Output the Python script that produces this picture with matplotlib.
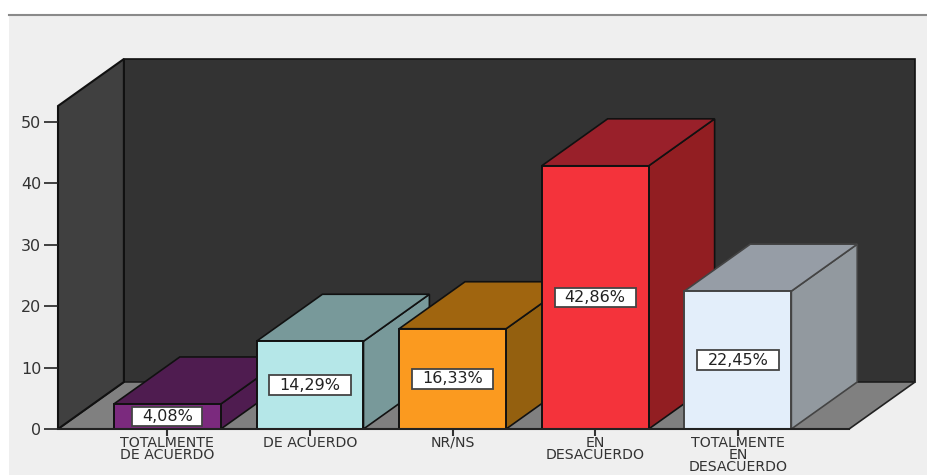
import matplotlib
matplotlib.use('Agg')
import matplotlib.pyplot as plt
from matplotlib.patches import Polygon, Rectangle

categories = ['TOTALMENTE\nDE ACUERDO', 'DE ACUERDO', 'NR/NS', 'EN\nDESACUERDO', 'TOTALMENTE\nEN\nDESACUERDO']
values = [4.08, 14.29, 16.33, 42.86, 22.45]
labels = ['4,08%', '14,29%', '16,33%', '42,86%', '22,45%']
front_colors = ['#7b2a7e', '#b5e7e8', '#fb9a1f', '#f4333b', '#e3eefa']
top_colors = ['#4f1c50', '#78999a', '#a0650f', '#99202a', '#969da6']
side_colors = ['#4f1c50', '#78999a', '#94600f', '#921e22', '#92999f']
edge_colors = ['#111111', '#111111', '#111111', '#111111', '#444444']
label_widths = [0.49, 0.57, 0.57, 0.57, 0.57]
yticks = [0, 10, 20, 30, 40, 50]

W, H = 928, 475
bar_w = 0.75
dx, dy = 0.462, 7.65
x0, x1 = -0.767, 4.78
ymax = 52.6

fig = plt.figure(figsize=(W / 100, H / 100), dpi=100, facecolor='white')
# page panel behind the chart
fig.add_artist(Rectangle((9 / W, 0), 1, 1 - 15 / H, transform=fig.transFigure,
                         fc='#efefef', ec='none', zorder=-2))
fig.add_artist(plt.Line2D([9 / W, 1], [1 - 14.5 / H, 1 - 14.5 / H], color='#8a8a8a', lw=1.5, zorder=-1))

ax = fig.add_axes([58 / W, (H - 429) / H, (915 - 58) / W, (429 - 59) / H])
ax.set_xlim(x0, x1 + dx)
ax.set_ylim(0, ymax + dy)
ax.patch.set_alpha(0)
for s in ax.spines.values():
    s.set_visible(False)

# walls and floor
ax.add_patch(Rectangle((x0 + dx, dy), x1 - x0, ymax, fc='#333333', ec='#111111', lw=1.2, clip_on=False))
ax.add_patch(Polygon([(x0, 0), (x1, 0), (x1 + dx, dy), (x0 + dx, dy)], fc='#808080', ec='#222222', lw=1.2, clip_on=False))
ax.add_patch(Polygon([(x0, 0), (x0 + dx, dy), (x0 + dx, ymax + dy), (x0, ymax)], fc='#404040', ec='#111111', lw=1.5, clip_on=False))

for i, v in enumerate(values):
    l, r = i - bar_w / 2, i + bar_w / 2
    ec = edge_colors[i]
    ax.add_patch(Polygon([(r, 0), (r + dx, dy), (r + dx, v + dy), (r, v)], fc=side_colors[i], ec=ec, lw=1.2, zorder=3 + i))
    ax.add_patch(Polygon([(l, v), (r, v), (r + dx, v + dy), (l + dx, v + dy)], fc=top_colors[i], ec=ec, lw=1.2, zorder=3 + i))
    ax.add_patch(Rectangle((l, 0), bar_w, v, fc=front_colors[i], ec=ec, lw=1.4, zorder=3 + i))
    ax.add_patch(Rectangle((i - label_widths[i] / 2, v / 2 - 1.6), label_widths[i], 3.2, fc='white', ec='#444444', lw=1.3, zorder=20))
    ax.text(i, v / 2, labels[i], ha='center', va='center', fontsize=11.5, color='#222222', zorder=21)

ax.plot([x0, x1], [0, 0], color='#222222', lw=1.5, clip_on=False, zorder=30)

ax.set_xticks(range(len(categories)))
ax.set_xticklabels(categories, fontsize=10.2, color='#333333', linespacing=0.8)
ax.set_yticks(yticks)
ax.tick_params(axis='x', length=5, width=1.5, color='#333333', pad=0)
ax.tick_params(axis='y', length=10, width=1.2, color='#222222', pad=2, labelsize=11.5, labelcolor='#333333')

fig.savefig('out.png', dpi=100, facecolor=fig.get_facecolor())
